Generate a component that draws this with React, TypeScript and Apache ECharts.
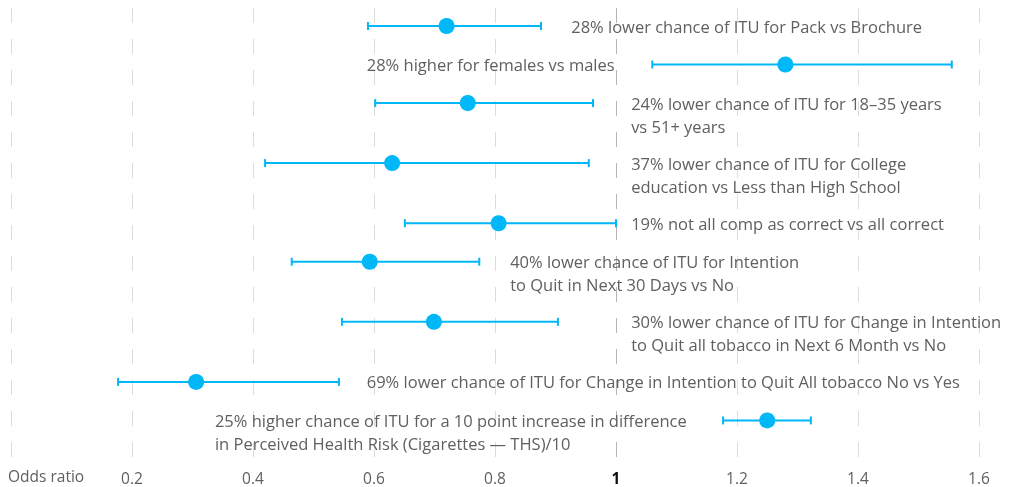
import React, { useEffect, useRef } from "react";
import * as echarts from "echarts";

const rowLabels: string[] = [
  "28% lower chance of ITU for Pack vs Brochure",
  "28% higher for females vs males",
  "24% lower chance of ITU for 18–35 years\nvs 51+ years",
  "37% lower chance of ITU for College\neducation vs Less than High School",
  "19% not all comp as correct vs all correct",
  "40% lower chance of ITU for Intention\nto Quit in Next 30 Days vs No",
  "30% lower chance of ITU for Change in Intention\nto Quit all tobacco in Next 6 Month vs No",
  "69% lower chance of ITU for Change in Intention to Quit All tobacco No vs Yes",
  "25% higher chance of ITU for a 10 point increase in difference\nin Perceived Health Risk (Cigarettes — THS)/10",
];
const oddsRatio: number[] = [0.72, 1.28, 0.755, 0.63, 0.806, 0.593, 0.699, 0.306, 1.25];
const ciLow: number[] = [0.59, 1.06, 0.602, 0.42, 0.651, 0.464, 0.547, 0.177, 1.177];
const ciHigh: number[] = [0.876, 1.555, 0.962, 0.955, 1.0, 0.774, 0.904, 0.542, 1.322];
// x (odds-ratio units) where each annotation begins
const labelAnchor: number[] = [0.926, 0.588, 1.025, 1.025, 1.025, 0.825, 1.025, 0.588, 0.337];
const xTicks: number[] = [0, 0.2, 0.4, 0.6, 0.8, 1, 1.2, 1.4, 1.6];

const FONT = "'Open Sans', sans-serif";
const BLUE = "#00B8F8";
const TEXT = "#606060";

export default function App() {
  const ref = useRef<HTMLDivElement>(null);
  useEffect(() => {
    if (!ref.current) return;
    const chart = echarts.init(ref.current, null, { renderer: "svg" });

    // row positions: two-line annotations take more vertical room
    const rowPos: number[] = [];
    let acc = 0;
    rowLabels.forEach((l) => {
      rowPos.push(acc);
      acc += l.includes("\n") ? 1.56 : 1;
    });

    const data = rowLabels.map((_, i) => [rowPos[i], ciLow[i], oddsRatio[i], ciHigh[i], labelAnchor[i], i]);

    chart.setOption({
      animation: false,
      grid: { left: 11, right: 39, top: 8, bottom: 25 },
      xAxis: {
        type: "value",
        min: 0,
        max: 1.6,
        interval: 0.2,
        axisLine: { show: false },
        axisTick: { show: false },
        axisLabel: {
          margin: 8,
          fontFamily: FONT,
          fontSize: 15.5,
          lineHeight: 15,
          color: TEXT,
          formatter: (v: number) => {
            if (Math.abs(v) < 1e-9) return "";
            if (Math.abs(v - 1) < 1e-9) return "{b|1}";
            return String(Math.round(v * 10) / 10);
          },
          rich: { b: { fontFamily: FONT, fontSize: 15.5, lineHeight: 15, fontWeight: "bold", color: "#111" } },
        },
        splitLine: {
          show: true,
          lineStyle: {
            type: [15, 16],
            width: 1,
            color: xTicks.map((t) => (t === 1 ? "#b5b5b5" : "#dcdcdc")),
          },
        },
      },
      yAxis: {
        type: "value",
        inverse: true,
        min: -0.4675,
        max: 11.32,
        show: false,
        splitLine: { show: false },
      },
      graphic: [
        {
          type: "text",
          left: 8,
          top: 468,
          style: { text: "Odds ratio", fontFamily: FONT, fontSize: 15.5, fill: TEXT },
        },
      ],
      series: [
        {
          type: "custom",
          data,
          encode: { x: [1, 2, 3, 4], y: 0 },
          renderItem: (params: any, api: any) => {
            const y = api.value(0);
            const lo = api.coord([api.value(1), y]);
            const mid = api.coord([api.value(2), y]);
            const hi = api.coord([api.value(3), y]);
            const an = api.coord([api.value(4), y]);
            const idx = api.value(5);
            const cy = lo[1];
            const lineStyle = { stroke: BLUE, lineWidth: 2 };
            return {
              type: "group",
              children: [
                { type: "line", shape: { x1: lo[0], y1: cy, x2: hi[0], y2: cy }, style: lineStyle },
                { type: "line", shape: { x1: lo[0], y1: cy - 4, x2: lo[0], y2: cy + 4 }, style: lineStyle },
                { type: "line", shape: { x1: hi[0], y1: cy - 4, x2: hi[0], y2: cy + 4 }, style: lineStyle },
                { type: "circle", shape: { cx: mid[0], cy: mid[1], r: 8 }, style: { fill: BLUE } },
                {
                  type: "text",
                  x: an[0],
                  y: cy - 11.5,
                  style: {
                    text: rowLabels[idx],
                    fontFamily: FONT,
                    fontSize: 16.5,
                    lineHeight: 23,
                    fill: TEXT,
                    align: "left",
                    verticalAlign: "top",
                  },
                },
              ],
            };
          },
        },
      ],
    });
    return () => chart.dispose();
  }, []);
  return <div ref={ref} style={{ position: "fixed", left: 0, top: 0, width: 1018, height: 487 }} />;
}
